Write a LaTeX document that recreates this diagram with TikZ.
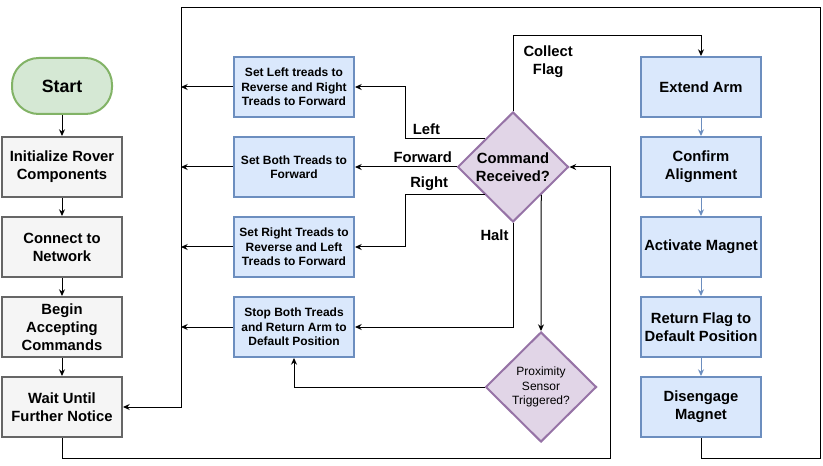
\documentclass[tikz,border=0pt]{standalone}
\usepackage{fontspec}
\setmainfont{Liberation Sans}
\usetikzlibrary{positioning}
\usetikzlibrary{shapes.geometric}
\usetikzlibrary{arrows.meta}

\definecolor{greenfill}{HTML}{D5E8D4}
\definecolor{greenline}{HTML}{82B366}
\definecolor{grayfill}{HTML}{F5F5F5}
\definecolor{grayline}{HTML}{666666}
\definecolor{bluefill}{HTML}{DAE8FC}
\definecolor{blueline}{HTML}{6C8EBF}
\definecolor{purplefill}{HTML}{E1D5E7}
\definecolor{purpleline}{HTML}{9673A6}

\begin{document}
\begin{tikzpicture}
[x=0.75pt,y=-0.75pt,node distance=60pt,on grid,>={Stealth[length=5pt,width=4.5pt]},
  line width=0.75pt,
  bigfont/.style={font=\bfseries\fontsize{11.1}{13.5}\selectfont},
  smallfont/.style={font=\bfseries\fontsize{9}{10.9}\selectfont},
  startnode/.style={draw=greenline,fill=greenfill,line width=1.5pt,rounded corners=20pt,
    minimum width=75pt,minimum height=42pt,font=\bfseries\fontsize{13.3}{15}\selectfont},
  graybox/.style={draw=grayline,fill=grayfill,line width=1.5pt,minimum width=90pt,
    minimum height=45pt,align=center,inner sep=1pt,bigfont},
  bluebox/.style={draw=blueline,fill=bluefill,line width=1.5pt,minimum width=90pt,
    minimum height=45pt,align=center,inner sep=1pt,smallfont},
  decision/.style={diamond,draw=purpleline,fill=purplefill,line width=1.5pt,
    minimum width=83.25pt,minimum height=82.5pt,inner sep=0pt,align=center,bigfont},
  branch/.style={bigfont,inner sep=3pt}]
\useasboundingbox (0,0) rectangle (823,466);
%% start and setup
\node[startnode] (start) at (62,86) {Start};
\node[graybox] (init) [below=60.75pt of start] {Initialize Rover\\Components};
\node[graybox] (connect) [below=of init] {Connect to\\Network};
\node[graybox] (begin) [below=of connect] {Begin\\Accepting\\Commands};
\node[graybox] (wait) [below=of begin] {Wait Until\\Further Notice};
%% tread commands
\node[bluebox] (setleft) at (294,87) {Set Left treads to\\Reverse and Right\\Treads to Forward};
\node[bluebox] (setboth) [below=of setleft] {Set Both Treads to\\Forward};
\node[bluebox] (setright) [below=of setboth] {Set Right Treads to\\Reverse and Left\\Treads to Forward};
\node[bluebox] (stop) [below=of setright] {Stop Both Treads\\and Return Arm to\\Default Position};
%% decisions
\node[decision] (cmd) at (513,167) {Command\\Received?};
\node[decision,font=\fontsize{9}{10.9}\selectfont] (prox) at (541,387) {Proximity\\Sensor\\Triggered?};
%% flag sequence
\node[bluebox,bigfont] (extend) at (701,87) {Extend Arm};
\node[bluebox,bigfont] (confirm) [below=of extend] {Confirm\\Alignment};
\node[bluebox,bigfont] (magnet) [below=of confirm] {Activate Magnet};
\node[bluebox,bigfont] (return) [below=of magnet] {Return Flag to\\Default Position};
\node[bluebox,bigfont] (release) [below=of return] {Disengage\\Magnet};
%% corners of the outer loop
\coordinate (topright) at (820,8);
\coordinate (topleft) at (181,8);
%% setup arrows
\draw[->] (start) -- (init);
\draw[->] (init) -- (connect);
\draw[->] (connect) -- (begin);
\draw[->] (begin) -- (wait);
\draw[->] (wait.south) -- ++(0,20) -| ([xshift=30.75pt]cmd.east) -- (cmd.east);
%% command branches
\draw[->] (cmd.north west) -- ++(-79,0) node[branch,pos=1,above right,xshift=2pt] {Left} |- (setleft.east);
\draw[->] (cmd.west) -- node[branch,pos=0,above left] {Forward} (setboth.east);
\draw[->] (cmd.south west) -- ++(-79,0) node[branch,pos=1,above right] {Right} |- (setright.east);
\draw[->] (cmd.south) node[branch,below left,yshift=-2pt] {Halt} |- (stop.east);
\draw[->] (cmd.south east) -- (prox.north);
\draw[->] (prox.west) -| (stop.south);
\draw[->] (cmd.north) -- ++(0,-75) node[branch,below right,align=center,xshift=4.5pt,yshift=-4pt] {Collect\\Flag} -| (extend.north);
%% back to waiting
\draw[->] (setleft.west) -- (setleft.west -| topleft);
\draw[->] (setboth.west) -- (setboth.west -| topleft);
\draw[->] (setright.west) -- (setright.west -| topleft);
\draw[->] (stop.west) -- (stop.west -| topleft);
%% flag sequence arrows
\draw[->,blueline] (extend) -- (confirm);
\draw[->,blueline] (confirm) -- (magnet);
\draw[->,blueline] (magnet) -- (return);
\draw[->,blueline] (return) -- (release);
\draw[->] (release.south) -- ++(0,20) -| (topright) -- (topleft) |- (wait.east);
\end{tikzpicture}
\end{document}
